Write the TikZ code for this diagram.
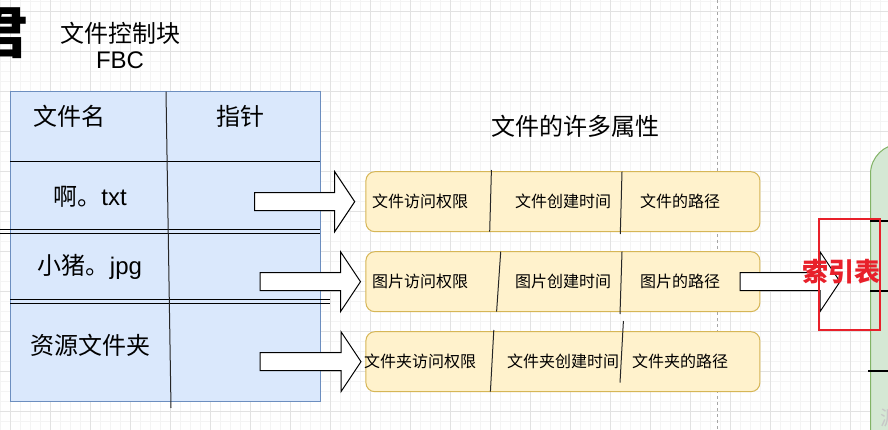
\documentclass[tikz,border=0pt]{standalone}
\usepackage{fontspec}
\setmainfont{Liberation Sans}
\newfontfamily\cjk{Noto Sans CJK SC}
\usetikzlibrary{calc}

\definecolor{blueFill}{HTML}{DAE8FC}
\definecolor{blueLine}{HTML}{6C8EBF}
\definecolor{yellowFill}{HTML}{FFF2CC}
\definecolor{yellowLine}{HTML}{D6B656}
\definecolor{greenFill}{HTML}{D5E8D4}
\definecolor{greenLine}{HTML}{82B366}
\definecolor{markRed}{HTML}{E8202A}
\definecolor{gridMajor}{HTML}{E2E2E2}
\definecolor{gridMinor}{HTML}{F4F4F4}

\newcommand\fatarrow[2]{%
  \draw[fatarr] ($(#1)+(0,-9)$) -- ($(#2)+(-20,-9)$) -- ($(#2)+(-20,-30)$) -- (#2)
    -- ($(#2)+(-20,30)$) -- ($(#2)+(-20,9)$) -- ($(#1)+(0,9)$) -- cycle;}

\begin{document}
\begin{tikzpicture}[x=1pt, y=-1pt,
    bigtxt/.style={font=\fontsize{24}{28}\selectfont, inner sep=0pt},
    smalltxt/.style={font=\fontsize{16}{19}\selectfont\cjk, inner sep=0pt},
    tablebox/.style={draw=blueLine, fill=blueFill, line width=1pt, minimum width=310pt, minimum height=310pt, inner sep=0pt},
    attrbox/.style={draw=yellowLine, fill=yellowFill, line width=1pt, rounded corners=9pt, minimum width=394pt, minimum height=60pt, inner sep=0pt},
    fatarr/.style={draw=black, fill=white, line width=1pt, line join=miter},
    rowline/.style={draw=black, line width=1pt},
    slant/.style={draw=black!85, line width=1pt}]
  \useasboundingbox (0,0) rectangle (888,430);
  \fill[white] (0,0) rectangle (888,430);
  \foreach \gx in {0,10,...,880}
    \draw[gridMinor, line width=1pt] (\gx,0) -- (\gx,430);
  \foreach \gy in {1.7,11.7,...,430}
    \draw[gridMinor, line width=1pt] (0,\gy) -- (888,\gy);
  \foreach \gx in {10,50,...,890}
    \draw[gridMajor, line width=1pt] (\gx,0) -- (\gx,430);
  \foreach \gy in {11.7,51.7,...,430}
    \draw[gridMajor, line width=1pt] (0,\gy) -- (888,\gy);
  \draw[black!35, line width=0.8pt, dash pattern=on 3pt off 3pt] (717,0) -- (717,430);

  \node[font=\fontsize{56}{56}\selectfont\bfseries\cjk, anchor=east, inner sep=0pt] (cut) at (29,33) {君};
  \node[bigtxt] (title) at (120,33.3) {\cjk 文件控制块};
  \node[bigtxt] (fbc) at (120,60.5) {FBC};

  \node[tablebox] (table) at (165,246.7) {};
  \draw[rowline] (10,161.7) -- (320,161.7);
  \draw[rowline] (0,229.5) -- (320,229.5);
  \draw[rowline] (0,233.5) -- (320,233.5);
  \draw[rowline] (10,299.5) -- (330,299.5);
  \draw[rowline] (10,303.3) -- (330,303.3);
  \draw[slant] (166,91.7) -- (171,408);
  \node[bigtxt] (hname) at (69,116.5) {\cjk 文件名};
  \node[bigtxt] (hptr) at (240,116.5) {\cjk 指针};
  \node[bigtxt] (ftxt) at (90,196.7) {{\cjk 啊。}txt};
  \node[bigtxt] (fjpg) at (90,267) {{\cjk 小猪。}jpg};
  \node[bigtxt] (fdir) at (90,345) {\cjk 资源文件夹};

  \node[attrbox] (row1) at (562.9,201.7) {};
  \node[attrbox] (row2) at (562.9,281.7) {};
  \node[attrbox] (row3) at (562.9,361.7) {};
  \draw[slant] (491.4,170) -- (489.7,231.7);
  \draw[slant] (622,171.7) -- (620.3,234);
  \draw[slant] (500.7,251.7) -- (496.6,311.7);
  \draw[slant] (622,251.7) -- (620,314);
  \draw[slant] (493.8,330) -- (490.4,391.7);
  \draw[slant] (623.4,321) -- (620,382.7);
  \node[smalltxt] (t11) at (420,201.7) {文件访问权限};
  \node[smalltxt] (t12) at (563,201.7) {文件创建时间};
  \node[smalltxt] (t13) at (680,201.7) {文件的路径};
  \node[smalltxt] (t21) at (420,281.7) {图片访问权限};
  \node[smalltxt] (t22) at (563,281.7) {图片创建时间};
  \node[smalltxt] (t23) at (680,281.7) {图片的路径};
  \node[smalltxt] (t31) at (420,361.7) {文件夹访问权限};
  \node[smalltxt] (t32) at (563,361.7) {文件夹创建时间};
  \node[smalltxt] (t33) at (680,361.7) {文件夹的路径};
  \node[bigtxt] (head) at (575,126) {\cjk 文件的许多属性};

  \coordinate (a1s) at (254.5,201.7);
  \coordinate (a1t) at (354.7,201.7);
  \coordinate (a2s) at (260,281.7);
  \coordinate (a2t) at (360.5,281.7);
  \coordinate (a3s) at (260,361.7);
  \coordinate (a3t) at (361,361.7);
  \coordinate (a4s) at (740,281.7);
  \coordinate (a4t) at (840,281.7);
  \fatarrow{a1s}{a1t}
  \fatarrow{a2s}{a2t}
  \fatarrow{a3s}{a3t}

  \filldraw[fill=greenFill, draw=greenLine, line width=1pt, rounded corners=30pt]
    (870.5,460) -- (870.5,144) -- (930,144) -- (930,460) -- cycle;
  \draw[black, line width=2pt] (870,220.7) -- (888,220.7);
  \draw[black, line width=2pt] (870,290.7) -- (888,290.7);
  \draw[black, line width=2pt] (868,370.7) -- (888,370.7);
  \node[font=\fontsize{20}{24}\selectfont\cjk, text=black!22, anchor=west, inner sep=0pt] (faint) at (880,418) {源};

  \fatarrow{a4s}{a4t}
  \draw[markRed, line width=2pt] (819,219) rectangle (880,330);
  \node[font=\fontsize{26}{30}\selectfont\bfseries\cjk, text=markRed, inner sep=0pt] (idx) at (841.5,271.5) {索引表};
\end{tikzpicture}
\end{document}
